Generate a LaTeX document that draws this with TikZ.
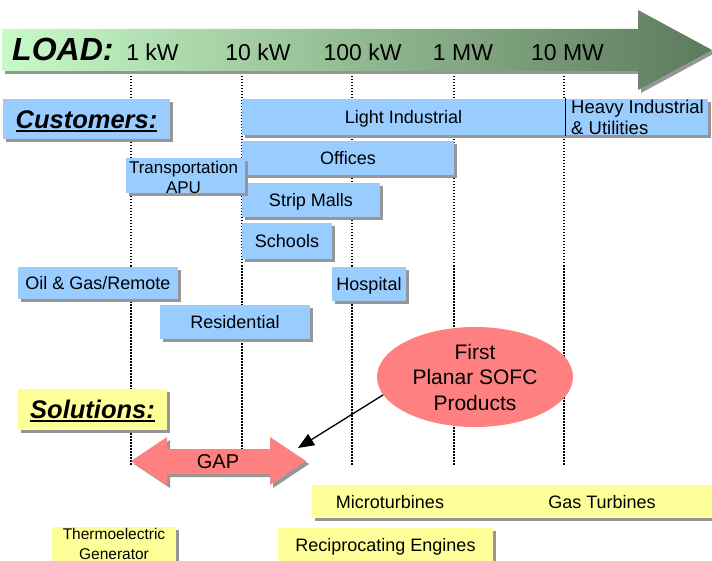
\documentclass[tikz,border=0pt]{standalone}
\usepackage{fontspec}
\setmainfont{Liberation Sans}
\usetikzlibrary{shapes.geometric,shadows,arrows.meta}
\definecolor{cblue}{RGB}{153,204,255}
\definecolor{cyel}{RGB}{255,255,153}
\definecolor{csal}{RGB}{255,128,128}
\definecolor{cshad}{RGB}{150,150,150}
\definecolor{gl}{RGB}{200,250,200}
\definecolor{gr}{RGB}{92,122,92}
\newcommand\fs[2]{\fontsize{#1}{#2}\selectfont}
\newcommand\myul[1]{\setbox0\hbox{#1}\rlap{\rule[-3.5pt]{\wd0}{2pt}}\box0}
\begin{document}
\begin{tikzpicture}[x=1pt,y=-1pt,
  shad/.style={drop shadow={shadow xshift=3pt,shadow yshift=-3pt,fill=cshad,opacity=1}},
  ctr/.style={text height=#1, text depth=0pt},
  ctr/.default=13pt,
  bx/.style={shad, inner sep=0pt, anchor=center, font=\fs{18}{21}, ctr},
  bluebox/.style={bx, fill=cblue},
  yelbox/.style={bx, fill=cyel},
  txt/.style={inner sep=0pt, align=center},
  dots/.style={line width=1.3pt, dash pattern=on 1.5pt off 1.5pt},
  lbl/.style={anchor=base, inner sep=0pt, font=\fs{23}{23}}]
\useasboundingbox (0,0) rectangle (712,561);
\clip (0,0) rectangle (712,561);
% load arrow
\path[shad, left color=gl, right color=gr] (2,29) -- (638,29) -- (638,10) -- (712,50) -- (638,90) -- (638,71) -- (2,71) -- cycle;
\node[anchor=base west, inner sep=0pt, font=\fs{32}{32}\bfseries\itshape] (load) at (12,61) {LOAD:};
\node[lbl] (kw1) at (152.5,61) {1 kW};
\node[lbl] (kw10) at (258,61) {10 kW};
\node[lbl] (kw100) at (362.5,61) {100 kW};
\node[lbl] (mw1) at (463,61) {1 MW};
\node[lbl] (mw10) at (567.5,61) {10 MW};
% dotted guides
\foreach \x in {131,242,352,454,564} \draw[dots] (\x,76) -- (\x,465);
% customers
\node[bluebox, ctr=18.4pt, minimum width=167pt, minimum height=40pt] (cust) at (86.5,119) {\fs{25.5}{26}\bfseries\itshape\myul{Customers:}};
\node[bluebox, minimum width=323pt, minimum height=36pt] (light) at (403.5,117) {Light Industrial};
\node[bluebox, minimum width=143pt, minimum height=36pt] (heavy) at (636.5,117) {};
\node[txt, align=left, font=\fs{18.5}{21}] (heavytxt) at (637.5,117.5) {Heavy Industrial\\\& Utilities};
\draw[line width=1.3pt] ([yshift=1pt]light.north east) -- ([yshift=-1pt]light.south east);
\node[bluebox, minimum width=212pt, minimum height=34pt] (off) at (348,158) {Offices};
\node[bluebox, minimum width=138pt, minimum height=34pt] (strip) at (311,200) {Strip Malls};
\node[bluebox, minimum width=90pt, minimum height=36pt] (sch) at (287,241) {Schools};
\node[bluebox, minimum width=119pt, minimum height=35pt] (trans) at (185.5,175.5) {};
\node[txt, font=\fs{17}{20}] (transtxt) at (183.5,177.5) {Transportation\\APU};
\node[bluebox, minimum width=160pt, minimum height=32pt] (oil) at (98,283) {Oil \& Gas/Remote};
\node[bluebox, minimum width=74pt, minimum height=34pt] (hosp) at (369,284) {Hospital};
\node[bluebox, minimum width=150pt, minimum height=34pt] (res) at (235,322) {Residential};
% solutions
\node[yelbox, ctr=18.4pt, minimum width=149pt, minimum height=41pt] (sol) at (92.5,409.5) {\fs{25.5}{26}\bfseries\itshape\myul{Solutions:}};
\node[ellipse, fill=csal, minimum width=196pt, minimum height=100pt, inner sep=0pt, align=center, font=\fs{21}{25.5}] (sofc) at (475,377) {First\\Planar SOFC\\Products};
\path[shad, fill=csal] (131,461) -- (167,437) -- (167,449) -- (270,449) -- (270,437) -- (306,461) -- (270,485) -- (270,474) -- (167,474) -- (167,485) -- cycle;
\node[inner sep=0pt, ctr=14.4pt, font=\fs{20}{20}] (gap) at (218,461) {GAP};
\coordinate (gaptip) at (298,448);
\draw[line width=1.3pt, -{Triangle[length=16pt,width=13pt]}] (sofc.191) -- (gaptip);
\node[yelbox, minimum width=400pt, minimum height=33pt] (micro) at (512,501.5) {};
\node[inner sep=0pt, ctr, font=\fs{18}{21}] (mt) at (390,502) {Microturbines};
\node[inner sep=0pt, ctr, font=\fs{18}{21}] (gt) at (602,502) {Gas Turbines};
\node[yelbox, minimum width=124pt, minimum height=36pt] (thermo) at (114,545) {};
\node[txt, font=\fs{15.5}{19.5}] (thermotxt) at (114,544) {Thermoelectric\\Generator};
\node[yelbox, minimum width=215pt, minimum height=34pt] (recip) at (385.5,545) {Reciprocating Engines};
\end{tikzpicture}
\end{document}
